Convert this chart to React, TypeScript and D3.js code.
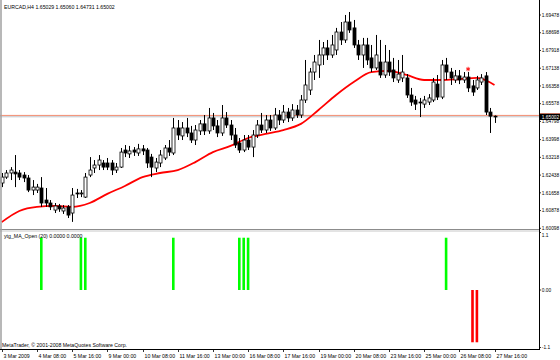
import React from 'react';
import * as d3 from 'd3';

// ---- DATA ----
const headerText = 'EURCAD,H4  1.65029 1.65060 1.64731 1.65002';
const indicatorTitle = 'ytg_MA_Open (20) 0.0000 0.0000';
const copyright = 'MetaTrader, © 2001-2008 MetaQuotes Software Corp.';

// [open, high, low, close]
const candles: [number, number, number, number][] = [
  [1.6209, 1.6253, 1.6191, 1.6235], [1.6235, 1.6266, 1.6227, 1.6253], [1.6253, 1.6279, 1.6222, 1.6266],
  [1.6257, 1.6332, 1.6191, 1.6249], [1.6253, 1.6266, 1.6222, 1.6235], [1.6244, 1.6257, 1.6213, 1.6231],
  [1.6231, 1.6244, 1.6169, 1.6178], [1.6178, 1.6222, 1.6156, 1.6191], [1.6178, 1.6205, 1.6165, 1.6191],
  [1.6187, 1.6235, 1.6104, 1.6121], [1.6134, 1.6187, 1.6104, 1.6121], [1.6121, 1.6134, 1.6090, 1.6104],
  [1.6090, 1.6121, 1.6077, 1.6108], [1.6108, 1.6117, 1.6082, 1.6095], [1.6086, 1.6112, 1.6073, 1.6099],
  [1.6104, 1.6112, 1.6055, 1.6068], [1.6077, 1.6187, 1.6038, 1.6156], [1.6165, 1.6183, 1.6143, 1.6161],
  [1.6161, 1.6178, 1.6147, 1.6165], [1.6147, 1.6253, 1.6143, 1.6235], [1.6244, 1.6323, 1.6235, 1.6266],
  [1.6275, 1.6310, 1.6253, 1.6288], [1.6288, 1.6332, 1.6266, 1.6310], [1.6297, 1.6310, 1.6266, 1.6279],
  [1.6297, 1.6319, 1.6266, 1.6279], [1.6297, 1.6310, 1.6244, 1.6266], [1.6266, 1.6297, 1.6253, 1.6279],
  [1.6279, 1.6363, 1.6275, 1.6345], [1.6354, 1.6376, 1.6323, 1.6341], [1.6337, 1.6372, 1.6319, 1.6350],
  [1.6354, 1.6367, 1.6328, 1.6345], [1.6341, 1.6381, 1.6328, 1.6359], [1.6359, 1.6376, 1.6332, 1.6350],
  [1.6354, 1.6363, 1.6275, 1.6297], [1.6323, 1.6337, 1.6235, 1.6279], [1.6275, 1.6319, 1.6257, 1.6301],
  [1.6297, 1.6354, 1.6279, 1.6332], [1.6319, 1.6376, 1.6310, 1.6363], [1.6363, 1.6398, 1.6328, 1.6345],
  [1.6341, 1.6495, 1.6332, 1.6451], [1.6451, 1.6486, 1.6398, 1.6420], [1.6416, 1.6477, 1.6398, 1.6451],
  [1.6451, 1.6495, 1.6411, 1.6429], [1.6429, 1.6460, 1.6385, 1.6398], [1.6398, 1.6464, 1.6376, 1.6442],
  [1.6438, 1.6486, 1.6420, 1.6469], [1.6469, 1.6508, 1.6420, 1.6438], [1.6438, 1.6539, 1.6425, 1.6495],
  [1.6495, 1.6517, 1.6442, 1.6460], [1.6460, 1.6486, 1.6411, 1.6429], [1.6429, 1.6552, 1.6416, 1.6495],
  [1.6495, 1.6521, 1.6451, 1.6464], [1.6464, 1.6486, 1.6398, 1.6420], [1.6420, 1.6451, 1.6363, 1.6376],
  [1.6385, 1.6407, 1.6341, 1.6354], [1.6354, 1.6420, 1.6345, 1.6398], [1.6398, 1.6420, 1.6354, 1.6367],
  [1.6367, 1.6442, 1.6323, 1.6420], [1.6420, 1.6486, 1.6407, 1.6464], [1.6464, 1.6517, 1.6429, 1.6442],
  [1.6442, 1.6508, 1.6429, 1.6486], [1.6486, 1.6508, 1.6438, 1.6451], [1.6451, 1.6539, 1.6442, 1.6508],
  [1.6508, 1.6530, 1.6464, 1.6486], [1.6486, 1.6552, 1.6473, 1.6521], [1.6521, 1.6539, 1.6477, 1.6495],
  [1.6495, 1.6556, 1.6482, 1.6530], [1.6530, 1.6552, 1.6495, 1.6508], [1.6508, 1.6596, 1.6495, 1.6574],
  [1.6574, 1.6750, 1.6561, 1.6640], [1.6618, 1.6715, 1.6596, 1.6697], [1.6697, 1.6772, 1.6662, 1.6741],
  [1.6728, 1.6838, 1.6671, 1.6772], [1.6772, 1.6829, 1.6728, 1.6803], [1.6803, 1.6838, 1.6750, 1.6772],
  [1.6772, 1.6860, 1.6759, 1.6816], [1.6794, 1.6891, 1.6772, 1.6873], [1.6873, 1.6917, 1.6816, 1.6838],
  [1.6838, 1.6948, 1.6825, 1.6917], [1.6917, 1.6961, 1.6869, 1.6882], [1.6891, 1.6926, 1.6803, 1.6816],
  [1.6816, 1.6838, 1.6750, 1.6772], [1.6772, 1.6847, 1.6715, 1.6816], [1.6816, 1.6847, 1.6728, 1.6750],
  [1.6759, 1.6816, 1.6697, 1.6715], [1.6715, 1.6860, 1.6706, 1.6772], [1.6741, 1.6838, 1.6671, 1.6684],
  [1.6684, 1.6816, 1.6671, 1.6741], [1.6741, 1.6794, 1.6680, 1.6697], [1.6706, 1.6759, 1.6653, 1.6671],
  [1.6662, 1.6750, 1.6649, 1.6688], [1.6671, 1.6772, 1.6653, 1.6697], [1.6671, 1.6688, 1.6583, 1.6596],
  [1.6596, 1.6627, 1.6548, 1.6565], [1.6574, 1.6592, 1.6530, 1.6556], [1.6565, 1.6583, 1.6499, 1.6561],
  [1.6556, 1.6592, 1.6539, 1.6574], [1.6565, 1.6600, 1.6552, 1.6583], [1.6574, 1.6671, 1.6565, 1.6653],
  [1.6644, 1.6684, 1.6574, 1.6587], [1.6587, 1.6750, 1.6578, 1.6728], [1.6728, 1.6759, 1.6662, 1.6697],
  [1.6697, 1.6715, 1.6640, 1.6671], [1.6662, 1.6706, 1.6649, 1.6680], [1.6680, 1.6706, 1.6644, 1.6662],
  [1.6662, 1.6697, 1.6649, 1.6675], [1.6675, 1.6697, 1.6609, 1.6627], [1.6636, 1.6662, 1.6592, 1.6609],
  [1.6627, 1.6680, 1.6618, 1.6662], [1.6653, 1.6688, 1.6640, 1.6671], [1.6680, 1.6697, 1.6508, 1.6521],
  [1.6521, 1.6539, 1.6429, 1.6503], [1.65029, 1.6506, 1.64731, 1.65002],
];

// moving average read every 4 bars
const maStep = 4;
const maValues = [
  1.6037, 1.6086, 1.6104, 1.6108, 1.6104, 1.6121, 1.6161, 1.6196, 1.6235, 1.6253,
  1.6266, 1.6301, 1.6345, 1.6372, 1.6407, 1.6425, 1.6442, 1.6469, 1.6530, 1.6596,
  1.6653, 1.6697, 1.6702, 1.6684, 1.6662, 1.6662, 1.6666, 1.6671, 1.6640,
];

const priceTicks = [1.69478, 1.68698, 1.67918, 1.67138, 1.66358, 1.65578, 1.64798, 1.63998, 1.63218, 1.62438, 1.61658, 1.60878, 1.60098];
const bidPrice = 1.65002;
const askPrice = 1.65062;

const timeLabelStep = 8;
const timeLabels = [
  '3 Mar 2009', '4 Mar 08:00', '5 Mar 16:00', '9 Mar 00:00', '10 Mar 08:00', '11 Mar 16:00', '13 Mar 00:00',
  '16 Mar 08:00', '17 Mar 16:00', '19 Mar 00:00', '20 Mar 08:00', '23 Mar 16:00', '25 Mar 00:00',
  '26 Mar 08:00', '27 Mar 16:00',
];

const greenSignalBars = [9, 18, 19, 39, 54, 55, 56, 101];
const redSignalBars = [107, 108];
const indicatorTicks = [1.1, 0, -1.1];
const indicatorTickLabels = ['1.1', '0.00', '-1.1'];

const markerBars = [106];
const markerPrices = [1.6710];

// ---- CHART ----
const FONT = '"Liberation Sans", Arial, sans-serif';
const FS = 5.2;
const AXIS_FS = 4.8;

export default function App() {
  const W = 560;
  const H = 360;
  const axisX = 539;
  const mainBottom = 230;
  const bottomAxisY = 349;

  const x = d3.scaleLinear().domain([0, candles.length - 1]).range([1.7, 1.7 + 4.4 * (candles.length - 1)]);
  const y = d3.scaleLinear().domain([1.60098, 1.69478]).range([228.3, 15]);
  const yInd = d3.scaleLinear().domain([-1.1, 1.1]).range([347.5, 232.5]);

  const maLine = d3
    .line<number>()
    .x((_, k) => x(k * maStep))
    .y((v) => y(v))
    .curve(d3.curveMonotoneX);

  const bodyW = 3;
  const labelX = axisX + 2.8;

  return (
    <svg
      width={W}
      height={H}
      viewBox={`0 0 ${W} ${H}`}
      style={{ position: 'fixed', left: 0, top: 0, background: '#ffffff' }}
      fontFamily={FONT}
      fontSize={FS}
    >
      <rect x={0} y={0} width={W} height={H} fill="#ffffff" />

      {/* bid / ask lines */}
      <line x1={0} x2={axisX} y1={y(askPrice)} y2={y(askPrice)} stroke="#f08060" strokeWidth={0.9} />
      <line x1={0} x2={axisX} y1={y(bidPrice)} y2={y(bidPrice)} stroke="#b8bcc4" strokeWidth={0.9} />

      {/* MA line */}
      <path d={maLine(maValues) || ''} fill="none" stroke="#ff0000" strokeWidth={1.8} />

      {/* candles */}
      {candles.map(([o, h, l, c], i) => {
        const cx = Math.round(x(i)) + 0.5;
        const up = c >= o;
        const top = y(Math.max(o, c));
        const bot = y(Math.min(o, c));
        return (
          <g key={i}>
            <line x1={cx} x2={cx} y1={y(h)} y2={y(l)} stroke="#000" strokeWidth={1} />
            <rect
              x={cx - bodyW / 2}
              y={top}
              width={bodyW}
              height={Math.max(bot - top, 0.8)}
              fill={up ? '#ffffff' : '#000000'}
              stroke="#000"
              strokeWidth={0.8}
            />
          </g>
        );
      })}

      {/* marker */}
      {markerBars.map((b, k) => (
        <path
          key={k}
          d={d3.symbol(d3.symbolAsterisk, 14)() || ''}
          transform={`translate(${x(b)},${y(markerPrices[k])})`}
          stroke="#ff0000"
          strokeWidth={0.9}
          fill="none"
        />
      ))}

      {/* header */}
      <text x={4} y={9} fill="#000">{headerText}</text>

      {/* panel separator */}
      <line x1={0} x2={axisX} y1={mainBottom - 0.5} y2={mainBottom - 0.5} stroke="#8c8c8c" strokeWidth={1} />
      <line x1={0} x2={axisX} y1={mainBottom + 1} y2={mainBottom + 1} stroke="#c8c8c8" strokeWidth={1} />

      {/* indicator bars */}
      {greenSignalBars.map((b) => (
        <rect key={'g' + b} x={x(b) - 1.3} y={yInd(1)} width={2.6} height={yInd(0) - yInd(1)} fill="#00ff00" />
      ))}
      {redSignalBars.map((b) => (
        <rect key={'r' + b} x={x(b) - 1.3} y={yInd(0)} width={2.6} height={yInd(-1) - yInd(0)} fill="#ff0000" />
      ))}

      <text x={4} y={238} fill="#000">{indicatorTitle}</text>
      <text x={2} y={347} fill="#000">{copyright}</text>

      {/* left edge */}
      <line x1={1} x2={1} y1={0} y2={bottomAxisY} stroke="#a0a0a0" strokeWidth={1.5} />

      {/* right axis */}
      <line x1={axisX + 0.5} x2={axisX + 0.5} y1={0} y2={bottomAxisY} stroke="#000" strokeWidth={1} />
      {priceTicks.map((p) => (
        <g key={p}>
          <line x1={axisX} x2={axisX + 2} y1={y(p)} y2={y(p)} stroke="#000" strokeWidth={0.8} />
          <text x={labelX} y={y(p) + 1.7} fill="#000" fontSize={AXIS_FS}>{p.toFixed(5)}</text>
        </g>
      ))}
      {/* price boxes */}
      <rect x={axisX + 1} y={y(askPrice) - 2.2} width={20} height={3} fill="#f07050" />
      <rect x={axisX + 1} y={y(bidPrice) - 3} width={20} height={6.2} fill="#000" />
      <text x={labelX} y={y(bidPrice) + 1.8} fill="#fff" fontSize={AXIS_FS}>{bidPrice.toFixed(5)}</text>

      {indicatorTicks.map((v, k) => {
        const ly = k === 0 ? yInd(v) + 3.2 : k === 2 ? yInd(v) - 0.5 : yInd(v);
        return (
          <g key={v}>
            <line x1={axisX} x2={axisX + 2} y1={yInd(v)} y2={yInd(v)} stroke="#000" strokeWidth={0.8} />
            <text x={labelX} y={ly + 1.7} fill="#000" fontSize={AXIS_FS}>{indicatorTickLabels[k]}</text>
          </g>
        );
      })}

      {/* bottom axis */}
      <line x1={0} x2={axisX + 1} y1={bottomAxisY + 0.5} y2={bottomAxisY + 0.5} stroke="#000" strokeWidth={1} />
      {timeLabels.map((t, k) => {
        const tx = Math.round(x(k * timeLabelStep)) + 0.5;
        return (
          <g key={t}>
            <line x1={tx} x2={tx} y1={bottomAxisY} y2={bottomAxisY + 3} stroke="#000" strokeWidth={0.8} />
            <text x={tx + 1} y={bottomAxisY + 8.5} fill="#000">{t}</text>
          </g>
        );
      })}
    </svg>
  );
}
